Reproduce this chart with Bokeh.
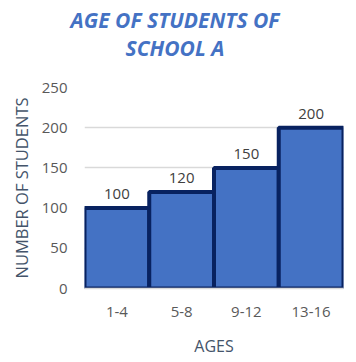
from bokeh.plotting import figure
from bokeh.models import FactorRange, Range1d, ColumnDataSource, FixedTicker, Div
from bokeh.layouts import column
from bokeh.core.properties import value
from bokeh.embed import file_html
from bokeh.resources import INLINE

ages = ["1-4", "5-8", "9-12", "13-16"]
students = [100, 120, 150, 200]
y_ticks = [0, 50, 100, 150, 200, 250]
title_lines = ["AGE OF STUDENTS OF", "SCHOOL A"]

FONT = "Open Sans"

src = ColumnDataSource(dict(x=ages, y=students, lbl=[str(v) for v in students]))

title = Div(text="<br>".join(title_lines), width=356, height=72, margin=(0, 0, 0, 0),
            styles={"text-align": "center", "font-family": FONT, "font-style": "italic",
                    "font-weight": "bold", "font-size": "21px", "line-height": "28px",
                    "color": "#4472C4", "padding-top": "6px", "padding-right": "6px",
                    "box-sizing": "border-box", "width": "356px"})

p = figure(width=356, height=290, x_range=FactorRange(*ages), y_range=Range1d(0, 250),
           output_backend="svg", toolbar_location=None, margin=(0, 0, 0, 0),
           min_border_left=84, min_border_right=13, min_border_top=15, min_border_bottom=74)
p.outline_line_color = None
p.background_fill_color = "white"

p.vbar(x="x", top="y", width=1.0, source=src, fill_color="#4472C4",
       line_color="#082260", line_width=4)
p.text(x="x", y="y", text="lbl", source=src, text_align="center", text_baseline="bottom",
       y_offset=-9, text_font=value(FONT), text_font_size="15px", text_color="#404040")

p.yaxis.ticker = FixedTicker(ticks=y_ticks)
p.yaxis.axis_line_color = None
p.yaxis.major_tick_line_color = None
p.yaxis.minor_tick_line_color = None
p.yaxis.major_label_text_font = FONT
p.yaxis.major_label_text_font_size = "15px"
p.yaxis.major_label_text_color = "#595959"
p.yaxis.major_label_standoff = 11
p.yaxis.axis_label = "NUMBER OF STUDENTS"
p.yaxis.axis_label_text_font = FONT
p.yaxis.axis_label_text_font_style = "normal"
p.yaxis.axis_label_text_font_size = "16.5px"
p.yaxis.axis_label_text_color = "#44546A"
p.yaxis.axis_label_standoff = 6

p.xaxis.axis_line_color = "#D9D9D9"
p.xaxis.axis_line_width = 1.5
p.xaxis.major_tick_line_color = None
p.xaxis.minor_tick_line_color = None
p.xaxis.major_label_text_font = FONT
p.xaxis.major_label_text_font_size = "15px"
p.xaxis.major_label_text_color = "#595959"
p.xaxis.major_label_standoff = 12
p.xaxis.axis_label = "AGES"
p.xaxis.axis_label_text_font = FONT
p.xaxis.axis_label_text_font_style = "normal"
p.xaxis.axis_label_text_font_size = "16px"
p.xaxis.axis_label_text_color = "#44546A"
p.xaxis.axis_label_standoff = 15

p.xgrid.grid_line_color = None
p.ygrid.grid_line_color = "#D9D9D9"
p.ygrid.grid_line_width = 1.5

layout = column(title, p, spacing=0, margin=(0, 0, 0, 0))

open("out.html", "w").write(file_html(layout, INLINE))
